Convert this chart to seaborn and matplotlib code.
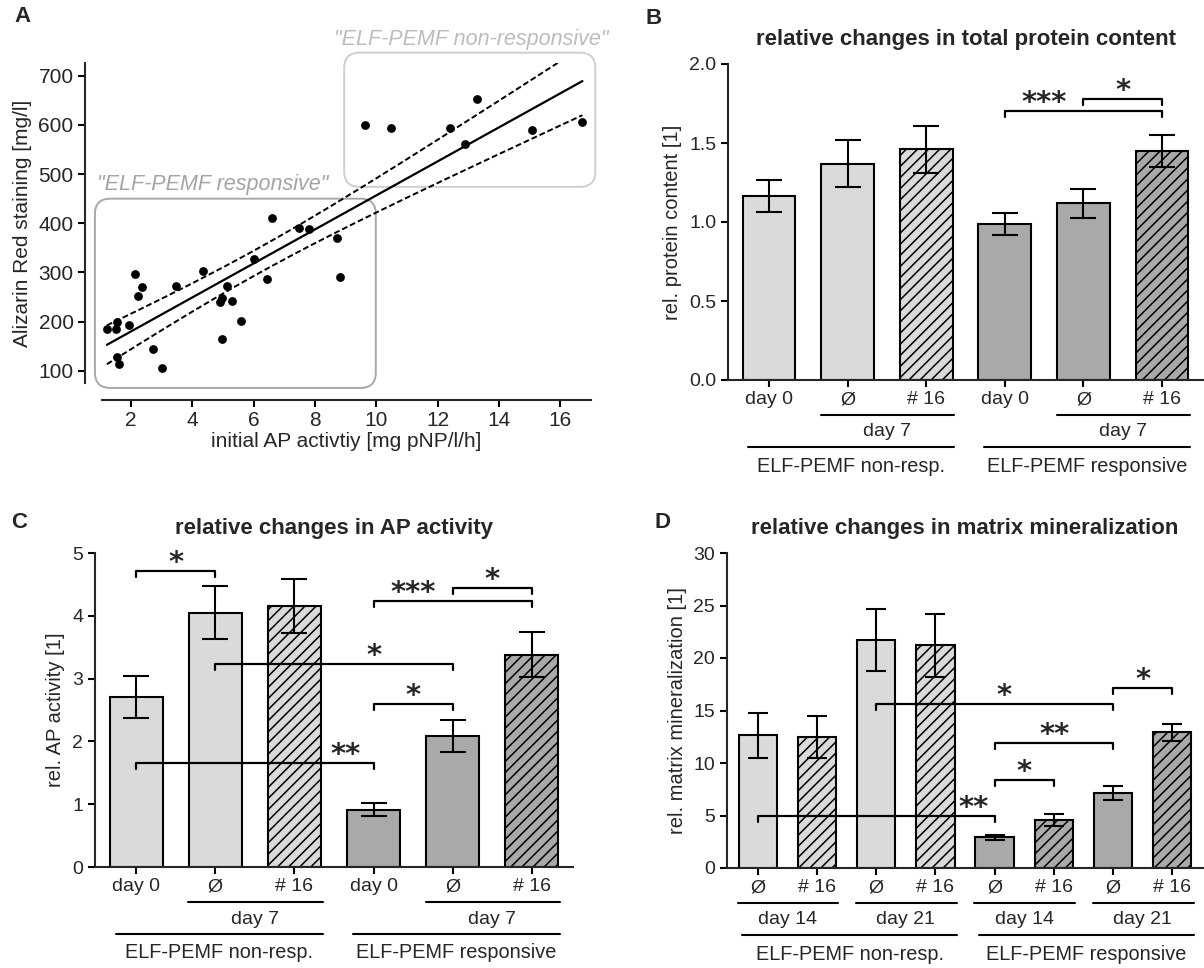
import numpy as np
import pandas as pd
import matplotlib
matplotlib.use("Agg")
import matplotlib.pyplot as plt
import matplotlib.transforms as mtransforms
from matplotlib.patches import FancyBboxPatch
import seaborn as sns

# ---------------------------------------------------------
# Daten
# ---------------------------------------------------------
# A: initiale AP-Aktivitaet vs. Alizarin-Rot-Faerbung
ap_activity = [1.21, 1.51, 1.55, 1.93, 2.14, 2.34, 2.24, 1.55, 1.62, 2.72, 3.02,
               3.48, 4.34, 4.91, 4.95, 5.14, 5.30, 4.98, 5.60, 6.02, 6.44, 6.58,
               7.47, 7.80, 8.72, 8.80, 9.63, 10.48, 12.39, 12.88, 13.27, 15.09, 16.72]
alizarin = [185, 185, 200, 194, 297, 271, 251, 128, 114, 144, 105,
            273, 302, 239, 248, 273, 241, 164, 202, 327, 287, 410,
            390, 388, 371, 290, 599, 594, 593, 562, 652, 589, 606]
box_labels = ['"ELF-PEMF responsive"', '"ELF-PEMF non-responsive"']
box_x = [(0.82, 9.98), (8.95, 17.14)]
box_y = [(65, 450), (474, 747)]

# B / C: sechs Gruppen
bc_keys = ["nr_d0", "nr_d7_0", "nr_d7_16", "r_d0", "r_d7_0", "r_d7_16"]
bc_ticks = ["day 0", "Ø", "# 16", "day 0", "Ø", "# 16"]
bc_hatched = [False, False, True, False, False, True]
bc_responsive = [False, False, False, True, True, True]
bc_sub = [("day 7", 1, 2), ("day 7", 4, 5)]
groups_bc = [("ELF-PEMF non-resp.", 0, 2), ("ELF-PEMF responsive", 3, 5)]

protein_mean = [1.165, 1.37, 1.46, 0.987, 1.118, 1.451]
protein_sem = [0.10, 0.15, 0.15, 0.07, 0.09, 0.10]
protein_pairs = [(3, 5), (4, 5)]
protein_bracket_y = [1.703, 1.776]
protein_stars = ["***", "*"]
protein_star_x = [3.5, 4.5]

ap_mean = [2.71, 4.05, 4.15, 0.91, 2.08, 3.38]
ap_sem = [0.33, 0.42, 0.43, 0.105, 0.255, 0.355]
ap_pairs = [(0, 1), (3, 5), (4, 5), (1, 4), (3, 4), (0, 3)]
ap_bracket_y = [4.71, 4.24, 4.45, 3.23, 2.59, 1.66]
ap_stars = ["*", "***", "*", "*", "*", "**"]
ap_star_x = [0.5, 3.5, 4.5, 3.0, 3.5, 2.65]

# D: acht Gruppen
d_keys = ["nr14_0", "nr14_16", "nr21_0", "nr21_16", "r14_0", "r14_16", "r21_0", "r21_16"]
d_ticks = ["Ø", "# 16"] * 4
d_hatched = [False, True] * 4
d_responsive = [False] * 4 + [True] * 4
d_sub = [("day 14", 0, 1), ("day 21", 2, 3), ("day 14", 4, 5), ("day 21", 6, 7)]
groups_d = [("ELF-PEMF non-resp.", 0, 3), ("ELF-PEMF responsive", 4, 7)]

min_mean = [12.64, 12.45, 21.7, 21.22, 2.91, 4.59, 7.13, 12.92]
min_sem = [2.15, 2.0, 2.95, 3.0, 0.28, 0.58, 0.7, 0.79]
min_pairs = [(2, 6), (6, 7), (4, 6), (4, 5), (0, 4)]
min_bracket_y = [15.58, 17.14, 11.88, 8.39, 4.97]
min_stars = ["*", "*", "**", "*", "**"]
min_star_x = [4.16, 6.5, 5.02, 4.5, 3.64]

LIGHT = "#dadada"
DARK = "#a9a9a9"

# ---------------------------------------------------------
# Stil
# ---------------------------------------------------------
sns.set_style("ticks")
plt.rcParams["font.family"] = ["Liberation Sans", "DejaVu Sans"]
plt.rcParams["hatch.linewidth"] = 1.1
plt.rcParams["axes.linewidth"] = 1.5

W, H = 1204, 968
fig = plt.figure(figsize=(W / 100, H / 100), dpi=100)


def add_ax(l, t, r, b):
    return fig.add_axes([l / W, 1 - b / H, (r - l) / W, (b - t) / H])


def style_axis(ax):
    for s in ["top", "right"]:
        ax.spines[s].set_visible(False)
    ax.tick_params(axis="both", direction="out", length=5, width=1.5,
                   labelsize=14, color="black")


# ---------------------------------------------------------
# A
# ---------------------------------------------------------
axA = add_ax(102, 63, 591, 383)
style_axis(axA)
axA.spines["left"].set_position(("outward", 12))
axA.spines["bottom"].set_position(("outward", 12))
axA.set_xlim(1.05, 17.0)
axA.set_ylim(75, 726)
axA.set_xticks(range(2, 17, 2))
axA.set_yticks(range(100, 701, 100))
axA.tick_params(labelsize=15)

sns.scatterplot(x=ap_activity, y=alizarin, color="black", s=40, linewidth=0,
                ax=axA, zorder=3)

# Regression mit 95%-Konfidenzband
xa = np.array(ap_activity)
ya = np.array(alizarin)
n = len(xa)
slope, intercept = np.polyfit(xa, ya, 1)
xs = np.linspace(xa.min(), xa.max(), 200)
yhat = intercept + slope * xs
resid = ya - (intercept + slope * xa)
s_res = np.sqrt(resid @ resid / (n - 2))
se = s_res * np.sqrt(1 / n + (xs - xa.mean()) ** 2 / ((xa - xa.mean()) ** 2).sum())
t_crit = 2.04
axA.plot(xs, yhat, color="black", lw=1.6)
axA.plot(xs, yhat + t_crit * se, color="black", lw=1.4, ls=(0, (3, 1.5)))
axA.plot(xs, yhat - t_crit * se, color="black", lw=1.4, ls=(0, (3, 1.5)))

axA.set_xlabel("initial AP activtiy [mg pNP/l/h]", fontsize=15, labelpad=1)
axA.set_ylabel("Alizarin Red staining [mg/l]", fontsize=15)
axA.yaxis.set_label_coords(-0.143, 0.5)

# graue Rahmen
px = axA.transData.transform((1, 0))[0] - axA.transData.transform((0, 0))[0]
py = axA.transData.transform((0, 1))[1] - axA.transData.transform((0, 0))[1]
box_edge = ["#a8a8a8", "#cfcfcf"]
box_text = ["#a4a4a4", "#bcbcbc"]
for k in range(2):
    (x0, x1), (y0, y1) = box_x[k], box_y[k]
    patch = FancyBboxPatch((x0, y0), x1 - x0, y1 - y0,
                           boxstyle="round,pad=0,rounding_size=0.5",
                           mutation_aspect=px / py, fc="none", ec=box_edge[k],
                           lw=1.4, clip_on=False, transform=axA.transData)
    axA.add_patch(patch)
    axA.text(x0 + 0.08 if k == 0 else x0 - 0.33, y1 + (28 if k == 0 else 26),
             box_labels[k], fontsize=15.5, style="italic", color=box_text[k],
             ha="left", va="center", clip_on=False)


# ---------------------------------------------------------
# Balkendiagramme
# ---------------------------------------------------------
def bar_panel(ax, keys, ticks, means, sems, hatched, responsive, ylim, yticks,
              width, capsize, sub, groups, pairs, br_y, stars, star_x, ylabel, title):
    style_axis(ax)
    df = pd.DataFrame({"condition": keys, "value": means})
    colors = [DARK if r else LIGHT for r in responsive]
    sns.barplot(data=df, x="condition", y="value", hue="condition", order=keys,
                hue_order=keys, palette=colors, saturation=1, dodge=False,
                legend=False, errorbar=None, width=width, edgecolor="black",
                linewidth=1.5, ax=ax)
    for bar, h in zip(ax.patches, hatched):
        if h:
            bar.set_hatch("///")
    ax.errorbar(range(len(keys)), means, yerr=sems, fmt="none", ecolor="black",
                elinewidth=1.5, capsize=capsize, capthick=1.5, zorder=5)
    nb = len(keys)
    ax.set_xlim(-0.52, nb - 1 + 0.52)
    ax.set_ylim(*ylim)
    ax.set_yticks(yticks)
    ax.set_xticks(range(nb))
    ax.set_xticklabels(ticks)
    ax.tick_params(axis="x", pad=3)
    ax.set_xlabel("")
    ax.set_ylabel(ylabel, fontsize=14.5)
    ax.set_title(title, fontsize=16, fontweight="bold", pad=14)

    hpx = ax.get_position().height * H
    tr = mtransforms.blended_transform_factory(ax.transData, ax.transAxes)
    for label, i, j in sub:
        ax.plot([i - 0.34, j + 0.36], [-35 / hpx] * 2, color="black", lw=1.5,
                transform=tr, clip_on=False)
        ax.text((i + j) / 2, -52 / hpx, label, fontsize=14, ha="center",
                va="center", transform=tr)
    for label, i, j in groups:
        ax.plot([i - 0.26, j + 0.36], [-67 / hpx] * 2, color="black", lw=1.5,
                transform=tr, clip_on=False)
        ax.text((i + j + 0.1) / 2, -86 / hpx, label, fontsize=14.3, ha="center",
                va="center", transform=tr)

    drop = 0.019 * (ylim[1] - ylim[0])
    for (i, j), y, st, sx in zip(pairs, br_y, stars, star_x):
        ax.plot([i, i, j, j], [y - drop, y, y, y - drop], color="black", lw=1.6,
                clip_on=False)
        ax.annotate(st, (sx, y), xytext=(0, 0), textcoords="offset points",
                    ha="center", va="baseline", fontsize=21, fontweight="bold",
                    family="DejaVu Sans")


axB = add_ax(728, 64, 1203, 380)
bar_panel(axB, bc_keys, bc_ticks, protein_mean, protein_sem, bc_hatched,
          bc_responsive, (0, 2.0), [0.0, 0.5, 1.0, 1.5, 2.0], 0.67, 9.5,
          bc_sub, groups_bc, protein_pairs, protein_bracket_y, protein_stars,
          protein_star_x, "rel. protein content [1]",
          "relative changes in total protein content")
axB.set_yticklabels(["0.0", "0.5", "1.0", "1.5", "2.0"])
axB.yaxis.set_label_coords(-0.097, 0.5)

axC = add_ax(95, 553, 573, 867)
bar_panel(axC, bc_keys, bc_ticks, ap_mean, ap_sem, bc_hatched, bc_responsive,
          (0, 5), range(0, 6), 0.67, 9.5, bc_sub, groups_bc, ap_pairs,
          ap_bracket_y, ap_stars, ap_star_x, "rel. AP activity [1]",
          "relative changes in AP activity")
axC.yaxis.set_label_coords(-0.063, 0.5)

axD = add_ax(727, 553, 1203, 868)
bar_panel(axD, d_keys, d_ticks, min_mean, min_sem, d_hatched, d_responsive,
          (0, 30), range(0, 31, 5), 0.65, 7, d_sub, groups_d, min_pairs,
          min_bracket_y, min_stars, min_star_x, "rel. matrix mineralization [1]",
          "relative changes in matrix mineralization")
axD.yaxis.set_label_coords(-0.084, 0.5)

# Panel-Buchstaben
for letter, (x, y) in zip("ABCD", [(22, 16), (654, 19), (19, 523), (662, 523)]):
    fig.text(x / W, 1 - y / H, letter, fontsize=16, fontweight="bold",
             ha="center", va="center")

fig.savefig("out.png", dpi=100, facecolor="white")
